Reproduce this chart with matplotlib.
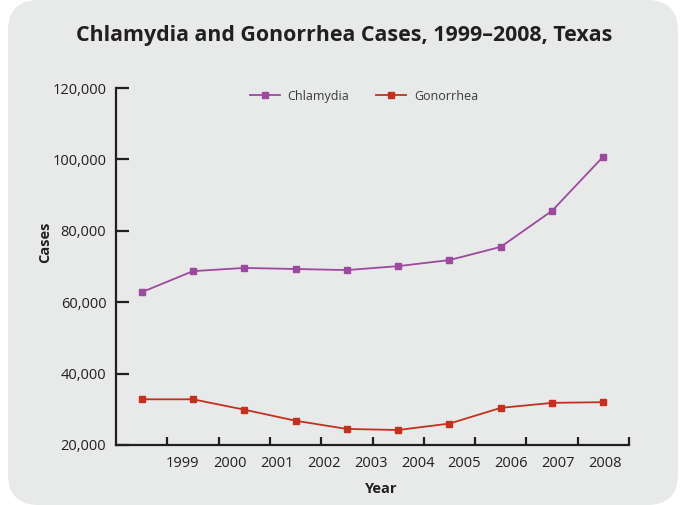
import matplotlib
matplotlib.use("Agg")
import matplotlib.pyplot as plt
from matplotlib.patches import FancyBboxPatch
import numpy as np

years = ["1999", "2000", "2001", "2002", "2003", "2004", "2005", "2006", "2007", "2008"]
chlamydia = [62800, 68700, 69600, 69300, 69000, 70100, 71800, 75500, 85600, 100800]
gonorrhea = [32800, 32800, 29900, 26800, 24500, 24200, 26000, 30400, 31800, 32000]
yticks = [20000, 40000, 60000, 80000, 100000, 120000]

plt.rcParams['font.family'] = ['Open Sans', 'DejaVu Sans']
ink = '#231F20'
purple = '#9B4A9E'
red = '#C4301E'

fig = plt.figure(figsize=(6.84, 5.05), dpi=100, facecolor='white')
bg = FancyBboxPatch((8/684, 0.0), (670/684), 1.0, boxstyle="round,pad=0,rounding_size=0.045",
                    transform=fig.transFigure, facecolor='#E8E9E9', edgecolor='none',
                    mutation_aspect=684/505, zorder=-10)
fig.patches.append(bg)

ax = fig.add_axes([116/684, 60/505, 513/684, 357/505])
ax.set_facecolor('none')
ax.set_zorder(5)
x = np.arange(len(years))
ax.plot(x, chlamydia, color=purple, lw=1.3, marker='s', ms=4.6, label='Chlamydia', clip_on=False)
ax.plot(x, gonorrhea, color=red, lw=1.3, marker='s', ms=4.6, label='Gonorrhea', clip_on=False)

ax.set_xlim(-0.5, len(years) - 0.5)
ax.set_ylim(20000, 120000)
ax.set_yticks(yticks)
ax.set_yticklabels([f"{v:,}" for v in yticks])
ax.set_xticks(np.arange(len(years)) + 0.5)
ax.set_xticklabels([])
label_pos = np.linspace(0.80, 9.04, len(years))
ax.set_xticks(label_pos, minor=True)
ax.set_xticklabels(years, minor=True)

for s in ['top', 'right']:
    ax.spines[s].set_visible(False)
for s in ['left', 'bottom']:
    ax.spines[s].set_linewidth(1.6)
    ax.spines[s].set_color(ink)
ax.tick_params(axis='y', direction='in', length=9, width=1.6, color=ink,
               labelsize=10.5, labelcolor=ink, pad=7)
ax.tick_params(axis='x', which='major', direction='in', length=6, width=1.6, color=ink)
ax.tick_params(axis='x', which='minor', length=0, labelsize=10.5, labelcolor=ink, pad=8)

ax.set_xlabel('Year', fontsize=10.5, fontweight='bold', color=ink)
ax.set_ylabel('Cases', fontsize=10.5, fontweight='bold', color=ink)
ax.xaxis.set_label_coords(0.517, -0.105)
ax.yaxis.set_label_coords(-0.124, 0.569)

fig.text(344/684, 1 - 35/505, 'Chlamydia and Gonorrhea Cases, 1999–2008, Texas',
         ha='center', va='center', fontsize=15.4, fontweight='bold', color=ink)

leg = ax.legend(loc='upper center', bbox_to_anchor=(0.483, 1.027), ncol=2, frameon=False,
                fontsize=9, handlelength=2.4, columnspacing=2.2, handletextpad=0.6,
                labelcolor='#3a3a3a')

fig.savefig('out.png', dpi=100, facecolor='white')
